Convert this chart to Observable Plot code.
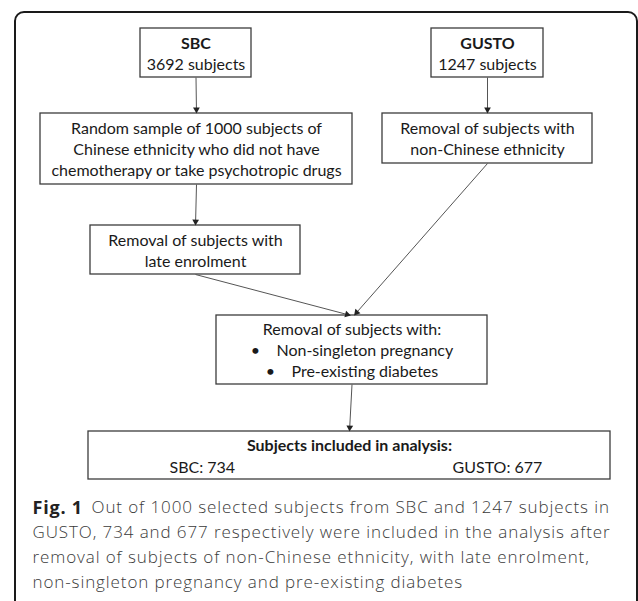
<!DOCTYPE html>
<html>
<head>
<meta charset="utf-8">
<script src="https://cdn.jsdelivr.net/npm/d3@7"></script>
<script src="https://cdn.jsdelivr.net/npm/@observablehq/plot@0.6"></script>
<style>
  html, body { margin: 0; padding: 0; background: #fff; }
  #chart { width: 638px; height: 601px; overflow: hidden; }
  #chart svg { overflow: hidden; }
</style>
</head>
<body>
<div id="chart"></div>
<script>
// ---- data ----
const boxIds    = ["sbc", "gusto", "random", "nonchin", "late", "final", "included"];
const boxLines  = [
  [["SBC", "bold"], ["3692 subjects", "normal"]],
  [["GUSTO", "bold"], ["1247 subjects", "normal"]],
  [["Random sample of 1000 subjects of", "normal"], ["Chinese ethnicity who did not have", "normal"], ["chemotherapy or take psychotropic drugs", "normal"]],
  [["Removal of subjects with", "normal"], ["non-Chinese ethnicity", "normal"]],
  [["Removal of subjects with", "normal"], ["late enrolment", "normal"]],
  [["Removal of subjects with:", "normal"], ["•\u00a0\u00a0\u00a0\u00a0Non-singleton pregnancy", "normal"], ["•\u00a0\u00a0\u00a0\u00a0Pre-existing diabetes", "normal"]],
  [["Subjects included in analysis:", "bold"]]
];
const includedCounts = ["SBC: 734", "GUSTO: 677"];
const flowFrom = ["sbc", "gusto", "random", "late", "nonchin", "final"];
const flowTo   = ["random", "nonchin", "late", "final", "final", "included"];
const captionBold = "Fig. 1";
const captionLines = [
  "Out of 1000 selected subjects from SBC and 1247 subjects in",
  "GUSTO, 734 and 677 respectively were included in the analysis after",
  "removal of subjects of non-Chinese ethnicity, with late enrolment,",
  "non-singleton pregnancy and pre-existing diabetes"
];

// ---- layout (kept apart from the data) ----
const boxX1 = [140, 431, 40, 382, 90, 216, 88];
const boxX2 = [251, 543, 352, 592, 300, 487, 610];
const boxY1 = [28, 28, 113, 113, 225, 315, 431];
const boxY2 = [77, 77, 184, 163, 274, 384, 479];
const lineGap = 21;
const textShift = 1;
const countX = [169, 452];
const linkTargetDx = [0, 0, 0, -1, 2, 0];
const frame = {x1: 15, x2: 637, y1: 12, y2: 660, r: 9};
const captionX = [32, 91];
const captionY0 = 507.5, captionGap = 25;

// ---- build tables ----
const boxes = boxIds.map((id, i) => ({id, x1: boxX1[i], x2: boxX2[i], y1: boxY1[i], y2: boxY2[i],
  cx: (boxX1[i] + boxX2[i]) / 2, cy: (boxY1[i] + boxY2[i]) / 2}));
const byId = Object.fromEntries(boxes.map(b => [b.id, b]));

const texts = [];
boxes.forEach((b, i) => {
  const lines = boxLines[i];
  const n = b.id === "included" ? 2 : lines.length;
  lines.forEach(([t, w], j) => {
    texts.push({x: b.cx, y: b.cy + (j - (n - 1) / 2) * lineGap + textShift, text: t, weight: w});
  });
});
const inc = byId.included;
const counts = includedCounts.map((t, i) => ({x: countX[i], y: inc.cy + lineGap / 2 + textShift + 1, text: t}));

const tip = 4.0;
const links = flowFrom.map((f, i) => {
  const a = byId[f], b = byId[flowTo[i]];
  const x1 = a.cx, y1 = a.y2, x2 = b.cx + linkTargetDx[i], y2 = b.y1;
  const L = Math.hypot(x2 - x1, y2 - y1);
  const ux = (x2 - x1) / L, uy = (y2 - y1) / L;
  return {x1, y1, x2: x2 - ux * tip, y2: y2 - uy * tip,
          hx: x2 - ux * tip, hy: y2 - uy * tip,
          angle: Math.atan2(ux, -uy) * 180 / Math.PI};
});

const caption = captionLines.map((t, i) => ({x: i === 0 ? captionX[1] : captionX[0], y: captionY0 + i * captionGap, text: t}));

const boxFont = "Lato, 'Open Sans', sans-serif";
const capFont = "'Open Sans', 'Noto Sans', sans-serif";
const boxFontSize = 16;

const chart = Plot.plot({
  width: 638, height: 601, margin: 0,
  x: {domain: [0, 638], range: [0, 638], axis: null},
  y: {domain: [0, 601], range: [0, 601], axis: null},
  style: {background: "#fff"},
  marks: [
    Plot.rect([frame], {x1: "x1", x2: "x2", y1: "y1", y2: "y2", rx: frame.r, fill: "none", stroke: "#1a1a1a", strokeWidth: 2}),
    Plot.rect(boxes, {x1: "x1", x2: "x2", y1: "y1", y2: "y2", fill: "#fff", stroke: "#3c3c3c", strokeWidth: 1.3}),
    Plot.link(links, {x1: "x1", y1: "y1", x2: "x2", y2: "y2", stroke: "#555", strokeWidth: 1}),
    Plot.dot(links, {x: "hx", y: "hy", symbol: "triangle", r: 2.5, rotate: "angle", fill: "#222", stroke: "none"}),
    Plot.text(texts.filter(d => d.weight === "normal"), {x: "x", y: "y", text: "text", fontSize: boxFontSize, fontFamily: boxFont, fill: "#1a1a1a"}),
    Plot.text(texts.filter(d => d.weight === "bold"), {x: "x", y: "y", text: "text", fontWeight: "bold", fontSize: boxFontSize, fontFamily: boxFont, fill: "#1a1a1a"}),
    Plot.text(counts, {x: "x", y: "y", text: "text", textAnchor: "start", fontSize: boxFontSize, fontFamily: boxFont, fill: "#1a1a1a"}),
    Plot.text([captionBold], {x: captionX[0], y: captionY0, text: d => d, textAnchor: "start", fontWeight: "bold", fontSize: 18, fontFamily: capFont, fill: "#222"}),
    Plot.text(caption, {x: "x", y: "y", text: "text", textAnchor: "start", fontSize: 17, fontWeight: 300, fontFamily: capFont, fill: "#3a3a3a"})
  ]
});
// letter spacing for the caption (wide, light caption face)
d3.select(chart).selectAll("text")
  .filter(function () { return captionLines.includes(this.textContent); })
  .style("letter-spacing", "0.9px");
d3.select(chart).selectAll("text")
  .filter(function () { return this.textContent === captionBold; })
  .style("letter-spacing", "0.8px");
document.getElementById("chart").append(chart);
</script>
</body>
</html>
